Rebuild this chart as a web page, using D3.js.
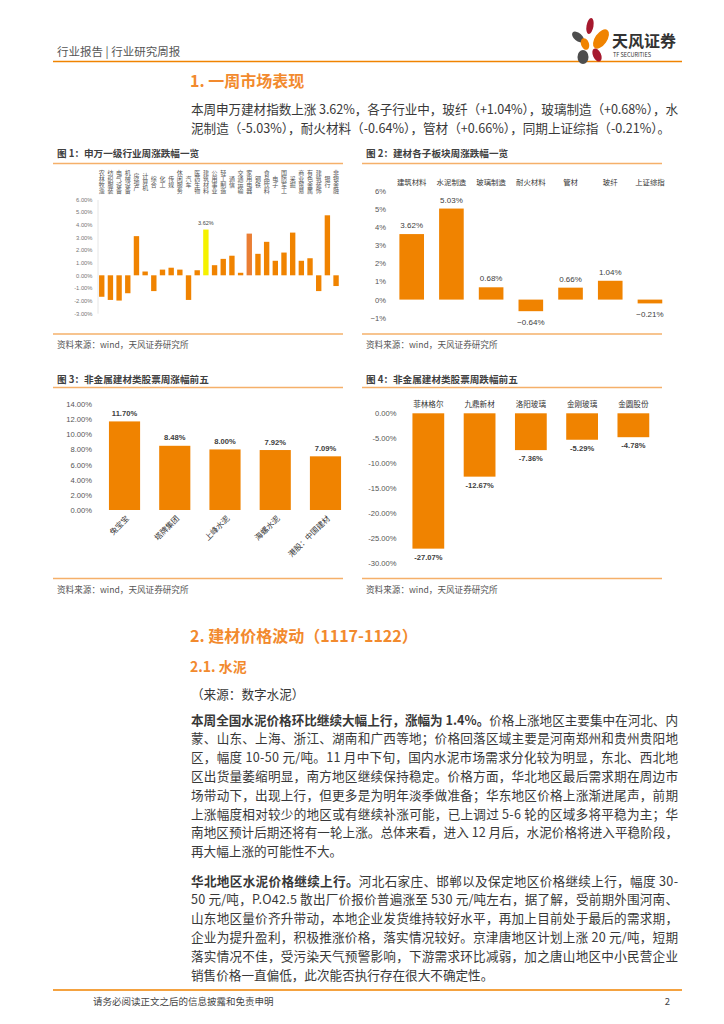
<!DOCTYPE html>
<html><head><meta charset="utf-8">
<script src="https://cdn.jsdelivr.net/npm/d3@7"></script>
<style>
html,body{margin:0;padding:0;background:#fff;}
svg{display:block;font-family:"Noto Sans CJK SC","Noto Sans",sans-serif;}
</style></head>
<body><svg id="page" width="724" height="1024"></svg>
<script>
// ---------- DATA ----------
const cats1 = ["农林牧渔","纺织服装","电气设备","机械设备","房地产","计算机","综合","化工","传媒","休闲服务","汽车","医药生物","建筑材料","公用事业","轻工制造","通信","交通运输","家用电器","钢铁","食品饮料","电子","国防军工","采掘","商业贸易","有色金属","建筑装饰","银行","非银金融"];
const vals1 = [-1.70,-1.95,-2.00,-1.42,3.10,0.30,-1.25,0.45,0.60,0.45,-1.95,0.40,3.62,0.80,1.30,1.55,0.20,3.30,1.70,2.65,1.15,1.80,3.38,1.15,1.35,-1.25,4.75,-0.85];
const ticks1 = [-3,-2,-1,0,1,2,3,4,5,6];

const cats2 = ["建筑材料","水泥制造","玻璃制造","耐火材料","管材","玻纤","上证综指"];
const vals2 = [3.62,5.03,0.68,-0.64,0.66,1.04,-0.21];
const ticks2 = [-1,0,1,2,3,4,5,6];

const cats3 = ["兔宝宝","塔牌集团","上峰水泥","海螺水泥","港股：中国建材"];
const vals3 = [11.70,8.48,8.00,7.92,7.09];
const ticks3 = [0,2,4,6,8,10,12,14];

const cats4 = ["菲林格尔","九鼎新材","洛阳玻璃","金刚玻璃","金圆股份"];
const vals4 = [-27.07,-12.67,-7.36,-5.29,-4.78];
const ticks4 = [0,-5,-10,-15,-20,-25,-30];

// ---------- PAGE ----------
const svg = d3.select("#page");
const ORANGE = "#F08300";
const LINE_OR = "#F5B06A";
const TXT = "#383838";

// header
svg.append("text").attr("x",57).attr("y",56).attr("font-size",11.5).attr("fill","#555")
  .text("行业报告 | 行业研究周报");
svg.append("line").attr("x1",53).attr("x2",682).attr("y1",61.5).attr("y2",61.5)
  .attr("stroke","#F08300").attr("stroke-width",1.6);
// logo
const lg = svg.append("g");
const petals = [
  {cx:590,cy:26,rx:3.5,ry:8,rot:10,c:"#A6192E"},
  {cx:578,cy:37,rx:4,ry:7,rot:-50,c:"#4D4D4D"},
  {cx:601,cy:39,rx:6,ry:11,rot:35,c:"#F08300"},
  {cx:585,cy:44,rx:4,ry:6,rot:-20,c:"#F08300"},
  {cx:583,cy:57,rx:5.5,ry:7,rot:0,c:"#4D4D4D"},
  {cx:597,cy:55,rx:4,ry:7,rot:-25,c:"#A6192E"}
];
petals.forEach(p=>lg.append("ellipse").attr("cx",p.cx).attr("cy",p.cy).attr("rx",p.rx).attr("ry",p.ry)
  .attr("transform",`rotate(${p.rot},${p.cx},${p.cy})`).attr("fill",p.c));
lg.append("text").attr("x",612).attr("y",47).attr("font-size",16).attr("font-weight","bold").attr("fill","#333").text("天风证券");
lg.append("text").attr("x",613).attr("y",57).attr("font-size",5.5).attr("fill","#333").text("TF SECURITIES");

// footer
svg.append("line").attr("x1",53).attr("x2",682).attr("y1",990).attr("y2",990)
  .attr("stroke","#F08300").attr("stroke-width",1.6);
svg.append("text").attr("x",93).attr("y",1005).attr("font-size",9.5).attr("fill","#444").text("请务必阅读正文之后的信息披露和免责申明");
svg.append("text").attr("x",670).attr("y",1005).attr("font-size",9.5).attr("fill","#444").attr("text-anchor","end").text("2");

// titles
function heading(txt,y,size){
  svg.append("text").attr("x",190).attr("y",y).attr("font-size",size).attr("font-weight","bold")
    .attr("fill","#F28A2E").text(txt);
}
heading("1. 一周市场表现",87,16);
heading("2. 建材价格波动（1117-1122）",642,16);
heading("2.1. 水泥",671.5,14);

const FS = 12.6, LEFT = 191, WIDTH = 487, STEP = 18.8;
function para(lines,y0,step){
  lines.forEach((segs,i)=>{
    const t = svg.append("text").attr("x",LEFT).attr("y",y0+i*step).attr("font-size",FS).attr("fill",TXT);
    if(!segs.last){ t.attr("textLength",WIDTH).attr("lengthAdjust","spacing"); }
    segs.s.forEach(s=>t.append("tspan").attr("font-weight",s.b?"bold":"normal").text(s.t));
  });
}
const L = (t,b)=>({t,b:!!b});
para([
  {s:[L("本周申万建材指数上涨 3.62%，各子行业中，玻纤（+1.04%），玻璃制造（+0.68%），水")]},
  {s:[L("泥制造（-5.03%），耐火材料（-0.64%），管材（+0.66%），同期上证综指（-0.21%）。")],last:true}
],114,STEP);

svg.append("text").attr("x",LEFT).attr("y",698.5).attr("font-size",FS).attr("fill",TXT).text("（来源：数字水泥）");

para([
  {s:[L("本周全国水泥价格环比继续大幅上行，涨幅为 1.4%。",1),L("价格上涨地区主要集中在河北、内")]},
  {s:[L("蒙、山东、上海、浙江、湖南和广西等地；价格回落区域主要是河南郑州和贵州贵阳地")]},
  {s:[L("区，幅度 10-50 元/吨。11 月中下旬，国内水泥市场需求分化较为明显，东北、西北地")]},
  {s:[L("区出货量萎缩明显，南方地区继续保持稳定。价格方面，华北地区最后需求期在周边市")]},
  {s:[L("场带动下，出现上行，但更多是为明年淡季做准备；华东地区价格上涨渐进尾声，前期")]},
  {s:[L("上涨幅度相对较少的地区或有继续补涨可能，已上调过 5-6 轮的区域多将平稳为主；华")]},
  {s:[L("南地区预计后期还将有一轮上涨。总体来看，进入 12 月后，水泥价格将进入平稳阶段，")]},
  {s:[L("再大幅上涨的可能性不大。")],last:true}
],724.5,STEP);

para([
  {s:[L("华北地区水泥价格继续上行。",1),L("河北石家庄、邯郸以及保定地区价格继续上行，幅度 30-")]},
  {s:[L("50 元/吨，P.O42.5 散出厂价报价普遍涨至 530 元/吨左右，据了解，受前期外围河南、")]},
  {s:[L("山东地区量价齐升带动，本地企业发货维持较好水平，再加上目前处于最后的需求期，")]},
  {s:[L("企业为提升盈利，积极推涨价格，落实情况较好。京津唐地区计划上涨 20 元/吨，短期")]},
  {s:[L("落实情况不佳，受污染天气预警影响，下游需求环比减弱，加之唐山地区中小民营企业")]},
  {s:[L("销售价格一直偏低，此次能否执行存在很大不确定性。")],last:true}
],885.5,STEP);

// ---------- chart panels ----------
function panel(x0,x1,titleY,lineY,botY,title){
  svg.append("text").attr("x",x0+4).attr("y",titleY).attr("font-size",9.6).attr("font-weight","bold").attr("fill","#404040").text(title);
  svg.append("line").attr("x1",x0).attr("x2",x1).attr("y1",lineY).attr("y2",lineY).attr("stroke",LINE_OR).attr("stroke-width",1.3);
  svg.append("line").attr("x1",x0).attr("x2",x1).attr("y1",botY).attr("y2",botY).attr("stroke",LINE_OR).attr("stroke-width",1.3);
  svg.append("text").attr("x",x0+4).attr("y",botY+14).attr("font-size",8.6).attr("fill","#555").text("资料来源：wind，天风证券研究所");
}
panel(53,343,157,163.5,334,"图 1：申万一级行业周涨跌幅一览");
panel(362,662,157,163.5,334,"图 2：建材各子板块周涨跌幅一览");
panel(53,343,383,387.5,578.5,"图 3：非金属建材类股票周涨幅前五");
panel(362,662,383,387.5,578.5,"图 4：非金属建材类股票周跌幅前五");

const pct2 = v => (v<0?"-":"")+Math.abs(v).toFixed(2)+"%";

// Chart 1
(function(){
  const g = svg.append("g");
  const y = d3.scaleLinear().domain([-3,6]).range([313.2,199.5]);
  const x = d3.scaleBand().domain(cats1).range([97.4,340.4]).paddingInner(0.38).paddingOuter(0.19);
  const ax = g.append("g").attr("transform","translate(97.5,0)")
    .call(d3.axisLeft(y).tickValues(ticks1).tickSize(0).tickPadding(5).tickFormat(pct2));
  ax.select(".domain").attr("stroke","#e6e6e6");
  ax.selectAll("text").attr("font-size",5.8).attr("fill","#777").attr("font-family","Liberation Sans, Arial");
  const colorOf = c => c==="建筑材料" ? "#F5F200" : (c==="家用电器" ? "#EA7E34" : ORANGE);
  g.selectAll("rect").data(cats1).join("rect")
    .attr("x",c=>x(c)).attr("width",x.bandwidth())
    .attr("y",(c,i)=>y(Math.max(0,vals1[i]))).attr("height",(c,i)=>Math.abs(y(vals1[i])-y(0)))
    .attr("fill",colorOf);
  g.selectAll("text.vlab").data(cats1).join("text").attr("class","vlab")
    .attr("x",c=>x(c)+x.bandwidth()/2).attr("y",182)
    .style("writing-mode","vertical-rl").attr("text-anchor","middle")
    .attr("font-size",6).attr("fill","#555").text(c=>c);
  cats1.forEach((c,i)=>{
    if(c==="建筑材料"){
      const cx=x(c)+x.bandwidth()/2;
      g.append("text").attr("x",cx).attr("y",y(vals1[i])-4.5).attr("font-size",5.5).attr("fill","#444")
        .attr("text-anchor","middle").attr("font-family","Liberation Sans, Arial").text(vals1[i].toFixed(2)+"%");
    }
  });
})();

// Chart 2
(function(){
  const g = svg.append("g");
  const y = d3.scaleLinear().domain([-1,6]).range([317.7,191]);
  const x = d3.scaleBand().domain(cats2).range([391.85,669.8]).paddingInner(0.38).paddingOuter(0.19);
  const ax = g.append("g").attr("transform","translate(387,0)")
    .call(d3.axisLeft(y).tickValues(ticks2).tickSize(0).tickPadding(1).tickFormat(d=>(d<0?"−":"")+Math.abs(d)+"%"));
  ax.select(".domain").remove();
  ax.selectAll("text").attr("font-size",7.6).attr("fill","#555").attr("font-family","Liberation Sans, Arial");
  g.selectAll("rect").data(cats2).join("rect")
    .attr("x",c=>x(c)).attr("width",x.bandwidth())
    .attr("y",(c,i)=>y(Math.max(0,vals2[i]))).attr("height",(c,i)=>Math.abs(y(vals2[i])-y(0)))
    .attr("fill",ORANGE);
  cats2.forEach((c,i)=>{
    const cx=x(c)+x.bandwidth()/2, v=vals2[i];
    g.append("text").attr("x",cx).attr("y",184.5).attr("font-size",7.4).attr("fill","#333").attr("text-anchor","middle").text(c);
    g.append("text").attr("x",cx).attr("y",v>=0?y(v)-6:y(v)+14).attr("font-size",8).attr("fill","#404040")
      .attr("text-anchor","middle").attr("font-family","Liberation Sans, Arial")
      .text((v<0?"−":"")+Math.abs(v).toFixed(2)+"%");
  });
})();

// Chart 3
(function(){
  const g = svg.append("g");
  const y = d3.scaleLinear().domain([0,14]).range([510,404]);
  const x = d3.scaleBand().domain(cats3).range([99.4,350.6]).paddingInner(0.38).paddingOuter(0.19);
  const ax = g.append("g").attr("transform","translate(93,0)")
    .call(d3.axisLeft(y).tickValues(ticks3).tickSize(0).tickPadding(1).tickFormat(pct2));
  ax.select(".domain").remove();
  ax.selectAll("text").attr("font-size",7.6).attr("fill","#555").attr("font-family","Liberation Sans, Arial");
  g.selectAll("rect").data(cats3).join("rect")
    .attr("x",c=>x(c)).attr("width",x.bandwidth())
    .attr("y",(c,i)=>y(vals3[i])).attr("height",(c,i)=>y(0)-y(vals3[i]))
    .attr("fill",ORANGE);
  cats3.forEach((c,i)=>{
    const cx=x(c)+x.bandwidth()/2, v=vals3[i];
    g.append("text").attr("x",cx).attr("y",y(v)-5.5).attr("font-size",7.6).attr("font-weight","bold").attr("fill","#404040")
      .attr("text-anchor","middle").attr("font-family","Liberation Sans, Arial").text(v.toFixed(2)+"%");
    g.append("text").attr("transform",`translate(${cx+3},${517}) rotate(-45)`).attr("font-size",7.8)
      .attr("fill","#333").attr("text-anchor","end").attr("dy","0.35em").text(c);
  });
})();

// Chart 4
(function(){
  const g = svg.append("g");
  const y = d3.scaleLinear().domain([-30,0]).range([563.3,413.3]);
  const x = d3.scaleBand().domain(cats4).range([402.7,659]).paddingInner(0.38).paddingOuter(0.19);
  const ax = g.append("g").attr("transform","translate(397.5,0)")
    .call(d3.axisLeft(y).tickValues(ticks4).tickSize(0).tickPadding(1).tickFormat(pct2));
  ax.select(".domain").remove();
  ax.selectAll("text").attr("font-size",7.6).attr("fill","#555").attr("font-family","Liberation Sans, Arial");
  g.selectAll("rect").data(cats4).join("rect")
    .attr("x",c=>x(c)).attr("width",x.bandwidth())
    .attr("y",y(0)).attr("height",(c,i)=>y(vals4[i])-y(0))
    .attr("fill",ORANGE);
  cats4.forEach((c,i)=>{
    const cx=x(c)+x.bandwidth()/2, v=vals4[i];
    g.append("text").attr("x",cx).attr("y",407).attr("font-size",7.6).attr("fill","#333").attr("text-anchor","middle").text(c);
    g.append("text").attr("x",cx).attr("y",y(v)+11).attr("font-size",7.6).attr("font-weight","bold").attr("fill","#404040")
      .attr("text-anchor","middle").attr("font-family","Liberation Sans, Arial").text(pct2(v));
  });
})();
</script></body></html>
